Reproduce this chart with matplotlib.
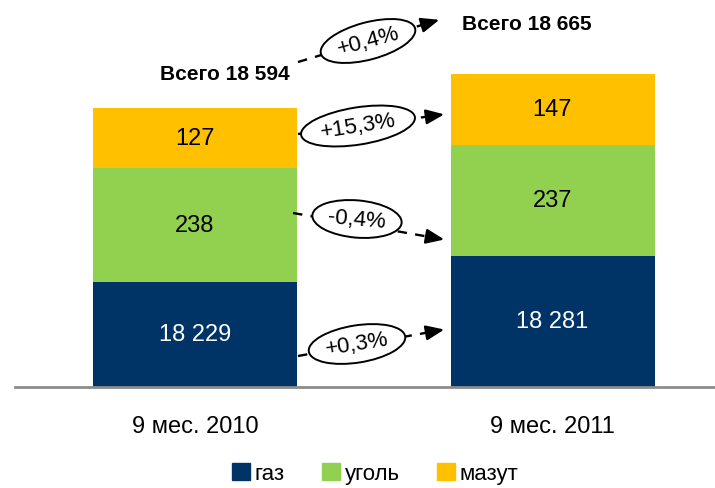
import matplotlib
matplotlib.use('Agg')
import matplotlib.pyplot as plt
from matplotlib import font_manager
from matplotlib.patches import Patch

# данные
periods = ['9 мес. 2010', '9 мес. 2011']
fuels = ['газ', 'уголь', 'мазут']
values = {
    'газ': [18229, 18281],
    'уголь': [238, 237],
    'мазут': [127, 147],
}
totals = [18594, 18665]
changes = ['+0,3%', '-0,4%', '+15,3%']
total_change = '+0,4%'
# высоты сегментов на схеме (не пропорциональны значениям)
heights = {
    'газ': [105, 131],
    'уголь': [114, 111],
    'мазут': [60, 71],
}
colors = {'газ': '#003366', 'уголь': '#92D050', 'мазут': '#FFC000'}

names = {f.name for f in font_manager.fontManager.ttflist}
fam = 'Liberation Sans Narrow' if 'Liberation Sans Narrow' in names else 'Liberation Sans'
plt.rcParams['font.family'] = [fam, 'DejaVu Sans']


def fmt(v):
    return f'{v:,}'.replace(',', ' ')


def px(x, y):
    # пиксели картинки -> координаты осей
    return (x - 195) / 357.5, 388 - y


fig = plt.figure(figsize=(7.15, 4.89), dpi=100)
ax = fig.add_axes([15 / 715, 101 / 489, 700 / 715, 388 / 489])
ax.set_xlim(-180 / 357.5, 520 / 357.5)
ax.set_ylim(0, 388)

xs = [0, 1]
width = 204 / 357.5
bottom = [0, 0]
for f in fuels:
    bars = ax.bar(xs, heights[f], width, bottom=bottom, color=colors[f], zorder=2)
    for i, b in enumerate(bars):
        ax.text(b.get_x() + b.get_width() / 2, bottom[i] + heights[f][i] / 2,
                fmt(values[f][i]), ha='center', va='center', fontsize=17,
                color='white' if f == 'газ' else 'black')
    bottom = [bottom[i] + heights[f][i] for i in range(2)]

for s in ['top', 'left', 'right']:
    ax.spines[s].set_visible(False)
ax.spines['bottom'].set_color('#8c8c8c')
ax.spines['bottom'].set_linewidth(2)
ax.set_yticks([])
ax.set_xticks(xs)
ax.set_xticklabels(periods, fontsize=17)
ax.tick_params(axis='x', length=0, pad=20)

ax.text(*px(290, 75), 'Всего ' + fmt(totals[0]), ha='right', va='center',
        fontsize=15, fontweight='bold')
ax.text(*px(462, 25), 'Всего ' + fmt(totals[1]), ha='left', va='center',
        fontsize=15, fontweight='bold')


def change_arrow(p0, p1, pc, label, rot):
    x0, y0 = px(*p0)
    x1, y1 = px(*p1)
    xm = x0 + (x1 - x0) * 0.86
    ym = y0 + (y1 - y0) * 0.86
    ax.plot([x0, xm], [y0, ym], color='black', lw=1.7, ls=(0, (4, 3.5)), zorder=3)
    ax.annotate('', xy=(x1, y1), xytext=(xm, ym),
                arrowprops=dict(arrowstyle='-|>,head_length=1.1,head_width=0.45',
                                color='black', lw=1.7), zorder=3)
    ax.text(*px(*pc), label, ha='center', va='center', fontsize=16, rotation=rot,
            zorder=4, bbox=dict(boxstyle='ellipse,pad=0.12', fc='white',
                                ec='black', lw=1.4))


change_arrow((298, 63), (442, 20), (368, 42), total_change, 15)
change_arrow((298, 135), (447, 115), (358, 127), changes[2], 9)
change_arrow((293, 214), (447, 241), (357, 220), changes[1], -5)
change_arrow((298, 357), (447, 330), (357, 345), changes[0], 9)

handles = [Patch(color=colors[f]) for f in fuels]
fig.legend(handles, fuels, loc='center', bbox_to_anchor=(0.525, 0.03), ncol=3,
           frameon=False, fontsize=16, handlelength=0.8, handleheight=0.8,
           handletextpad=0.2, columnspacing=1.7, borderpad=0.1)

fig.savefig('out.png', dpi=100)
